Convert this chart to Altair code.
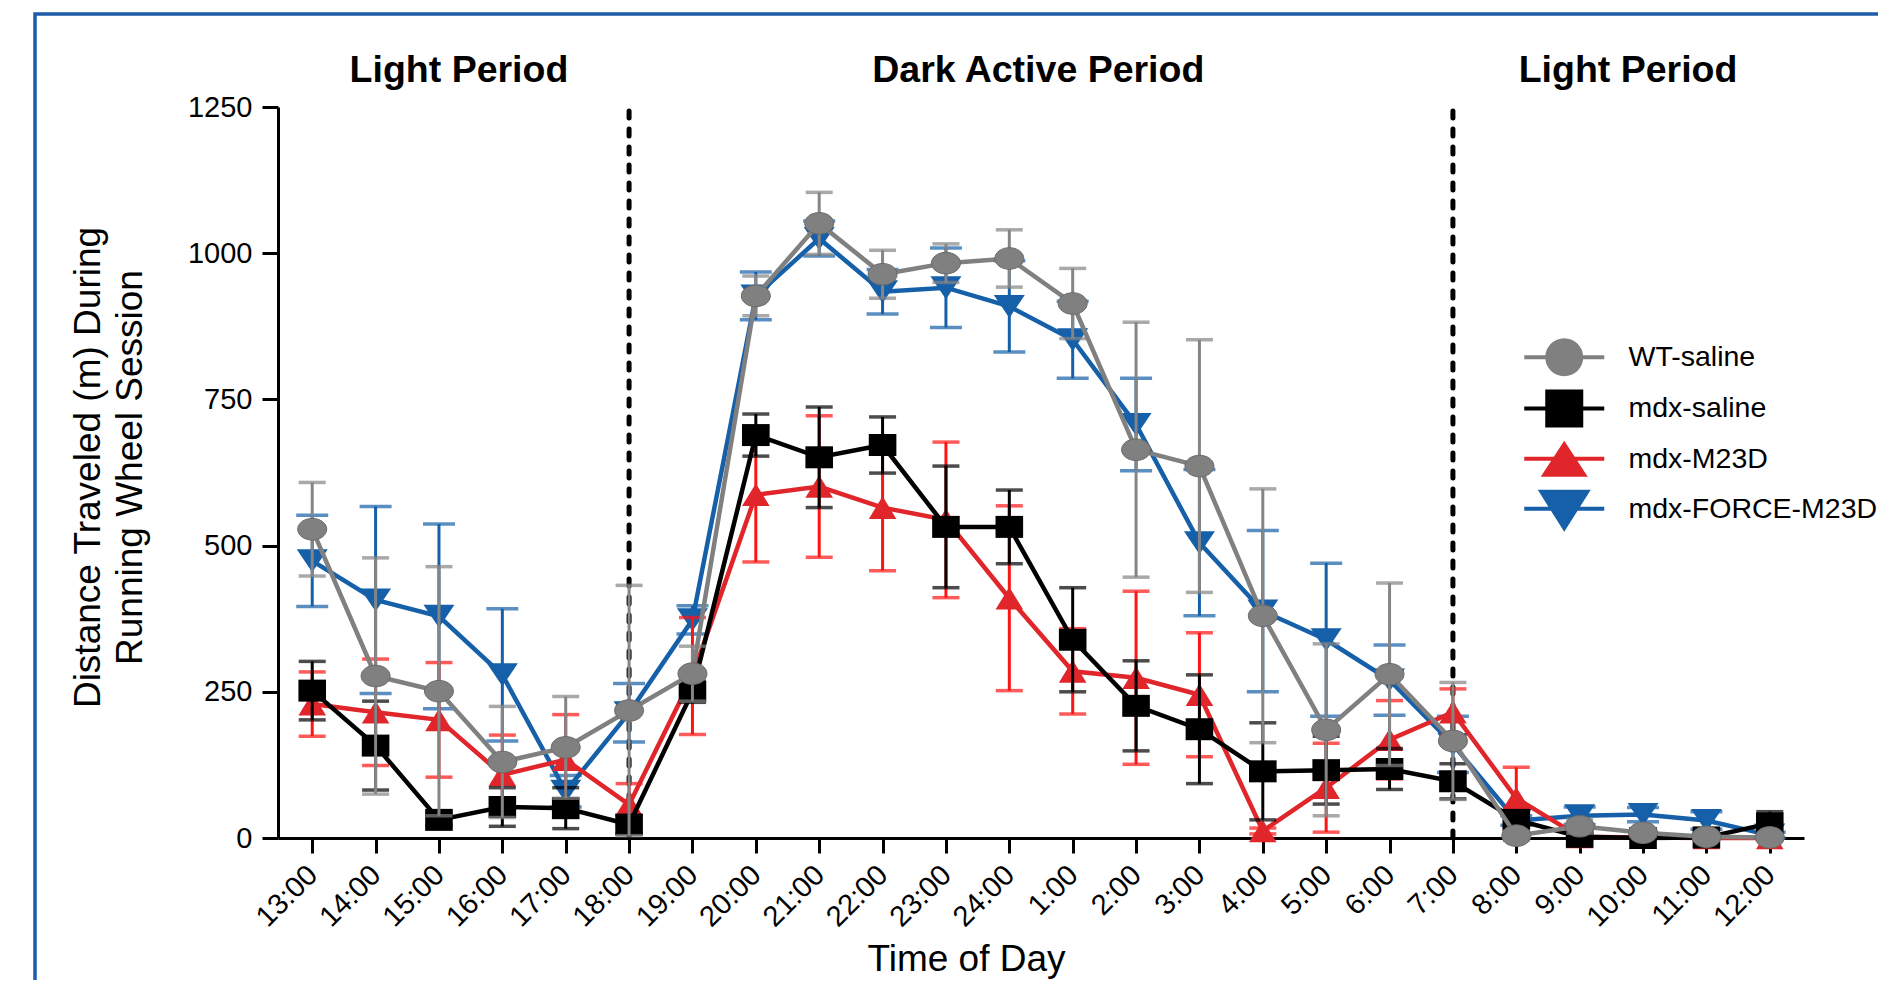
import altair as alt
import pandas as pd

FONT = "Liberation Sans"

times = ["13:00", "14:00", "15:00", "16:00", "17:00", "18:00", "19:00", "20:00",
         "21:00", "22:00", "23:00", "24:00", "1:00", "2:00", "3:00", "4:00",
         "5:00", "6:00", "7:00", "8:00", "9:00", "10:00", "11:00", "12:00"]

groups = ["WT-saline", "mdx-saline", "mdx-M23D", "mdx-FORCE-M23D"]

wt_mean = [528, 277, 251, 130, 155, 218, 281, 927, 1051, 964, 983, 991,
           914, 664, 636, 380, 185, 280, 166, 4, 20, 9, 2, 1]
wt_sem = [80, 202, 213, 95, 87, 214, 47, 34, 53, 41, 33, 49,
          60, 218, 216, 217, 147, 156, 100, 8, 12, 6, 4, 3]

sal_mean = [252, 158, 31, 53, 51, 23, 250, 689, 651, 672, 532, 532,
            339, 226, 186, 114, 116, 118, 97, 31, 2, 0, 1, 25]
sal_sem = [50, 76, 10, 33, 35, 15, 18, 36, 86, 48, 104, 63,
           89, 77, 93, 83, 58, 35, 30, 10, 5, 3, 3, 20]

m23_mean = [229, 215, 202, 108, 134, 57, 277, 587, 601, 565, 544, 410,
            285, 274, 245, 12, 86, 168, 215, 68, 2, 1, 0, 0]
m23_sem = [55, 91, 98, 68, 77, 36, 100, 115, 121, 108, 133, 158,
           73, 148, 106, 5, 76, 67, 40, 53, 3, 2, 2, 2]

force_mean = [474, 407, 379, 279, 80, 214, 373, 927, 1025, 934, 941, 909,
              852, 707, 505, 388, 339, 270, 160, 30, 38, 40, 30, 5]
force_sem = [78, 160, 158, 113, 27, 50, 24, 41, 30, 38, 68, 78,
             66, 79, 125, 138, 131, 60, 48, 8, 15, 12, 15, 5]

line_colors = ["#808080", "#000000", "#e0262b", "#1560a8"]
err_colors = ["#858585", "#000000", "#ff1414", "#1560a8"]
cap_sizes = [27, 27, 27, 32]

# marker shapes in the plot (slightly wide, like the reference)
plot_shapes = [
    "M-1.45,0A1.45,1.08 0 1,1 1.45,0A1.45,1.08 0 1,1 -1.45,0Z",
    "M-1.38,-1.1L1.38,-1.1L1.38,1.1L-1.38,1.1Z",
    "M0,-1.13L1.38,1.13L-1.38,1.13Z",
    "M-1.55,-1.15L1.55,-1.15L0,1.15Z",
]
# legend symbols: marker with a line through it
bar = "M-4,-0.2L4,-0.2L4,0.2L-4,0.2Z "
legend_shapes = [
    bar + "M-1.9,0A1.9,1.9 0 1,1 1.9,0A1.9,1.9 0 1,1 -1.9,0Z",
    bar + "M-1.9,-1.9L1.9,-1.9L1.9,1.9L-1.9,1.9Z",
    bar + "M0,-1.8L2.35,1.8L-2.35,1.8Z",
    bar + "M-2.65,-1.9L2.65,-1.9L0,2.3Z",
]

period_labels = ["Light Period", "Dark Active Period", "Light Period"]
period_anchor = ["15:00", "24:00", "10:00"]
period_dx = [20, 29, -15]
boundary_times = ["18:00", "7:00"]

series = {
    "WT-saline": (wt_mean, wt_sem),
    "mdx-saline": (sal_mean, sal_sem),
    "mdx-M23D": (m23_mean, m23_sem),
    "mdx-FORCE-M23D": (force_mean, force_sem),
}

rows = []
for g in groups:
    m, s = series[g]
    for i, t in enumerate(times):
        rows.append({"time": t, "idx": i, "group": g, "mean": m[i], "sem": s[i],
                     "lo": m[i] - s[i], "hi": m[i] + s[i]})
df = pd.DataFrame(rows)

x_axis = alt.Axis(
    title="Time of Day", titleFont=FONT, titleFontSize=37, titleFontWeight="normal",
    titleColor="black", titleX=688, titleY=132, titleBaseline="alphabetic", titleAlign="center",
    labelAngle=315, labelAlign="right", labelBaseline="middle", labelFont=FONT,
    labelFontSize=29, labelColor="black", labelPadding=17, labelOverlap=False,
    tickSize=15, tickWidth=3, tickColor="black", domainWidth=3, domainColor="black", grid=False,
)
y_axis = alt.Axis(
    title=["Distance Traveled (m) During", "Running Wheel Session"], titleFont=FONT,
    titleFontSize=37, titleFontWeight="normal", titleColor="black", titleLineHeight=42,
    titleX=-179, titleY=360, titleAngle=270, titleBaseline="alphabetic", titleAlign="center",
    values=[0, 250, 500, 750, 1000, 1250], format="d", labelFont=FONT, labelFontSize=29,
    labelColor="black", labelPadding=10, labelOverlap=False,
    tickSize=16, tickWidth=3, tickColor="black", domainWidth=3, domainColor="black", grid=False,
)

X = alt.X("time:O", scale=alt.Scale(type="point", domain=times, padding=0.54), axis=x_axis)
Y_SCALE = alt.Scale(domain=[0, 1250], nice=False, zero=True)


def yenc(field):
    return alt.Y(f"{field}:Q", scale=Y_SCALE, axis=y_axis)


base = alt.Chart(df)

layers = []

# outer blue frame of the figure panel
frame = alt.Chart(pd.DataFrame({"k": [0]})).mark_rect(
    fillOpacity=0, stroke="#1d5ca8", strokeWidth=3.5
).encode(x=alt.value(-243), x2=alt.value(2200), y=alt.value(-93), y2=alt.value(2200))
layers.append(frame)

# dotted boundaries
bdf = pd.DataFrame({"time": boundary_times, "lo": [0, 0], "hi": [1250, 1250]})
rules = alt.Chart(bdf).mark_rule(
    color="black", strokeWidth=5, strokeDash=[7, 11], strokeCap="round"
).encode(x=X, y=yenc("lo"), y2="hi:Q")
layers.append(rules)

draw_order = ["mdx-FORCE-M23D", "mdx-M23D", "mdx-saline", "WT-saline"]
for g in draw_order:
    gi = groups.index(g)
    sub = base.transform_filter(alt.datum.group == g)
    err = sub.mark_rule(color=err_colors[gi], strokeWidth=3).encode(x=X, y=yenc("lo"), y2="hi:Q")
    cap_hi = sub.mark_tick(color=err_colors[gi], size=cap_sizes[gi], thickness=3.5).encode(x=X, y=yenc("hi"))
    cap_lo = sub.mark_tick(color=err_colors[gi], size=cap_sizes[gi], thickness=3.5).encode(x=X, y=yenc("lo"))
    line = sub.mark_line(color=line_colors[gi], strokeWidth=4.5).encode(
        x=X, y=yenc("mean"), order="idx:Q")
    pt_kwargs = dict(filled=True, size=400, shape=plot_shapes[gi], color=line_colors[gi], opacity=1)
    if g == "WT-saline":
        pt_kwargs.update(stroke="#6a6a6a", strokeWidth=1)
    pts = sub.mark_point(**pt_kwargs).encode(x=X, y=yenc("mean"))
    layers += [err, cap_hi, cap_lo, line, pts]

# legend (entries come from the explicit scale domain)
leg = alt.Legend(
    title=None, orient="none", legendX=1272, legendY=236, padding=0,
    labelFont=FONT, labelFontSize=28.5, labelColor="black", labelOffset=50,
    symbolSize=400, symbolStrokeWidth=0, symbolOpacity=1, rowPadding=12.2,
    labelLimit=400,
)
legend_layer = base.transform_filter("datum.mean < -100000").mark_point(filled=True, size=400).encode(
    x=X, y=yenc("mean"),
    color=alt.Color("group:N", scale=alt.Scale(domain=groups, range=line_colors), legend=leg),
    shape=alt.Shape("group:N", scale=alt.Scale(domain=groups, range=legend_shapes), legend=leg),
)
layers.append(legend_layer)

# period titles
for lab, anc, dx in zip(period_labels, period_anchor, period_dx):
    tdf = pd.DataFrame({"time": [anc], "label": [lab], "yv": [1250]})
    txt = alt.Chart(tdf).mark_text(
        font=FONT, fontSize=37.5, fontWeight="bold", color="black", dx=dx, dy=-25,
        baseline="alphabetic", align="center"
    ).encode(x=X, y=yenc("yv"), text="label:N")
    layers.append(txt)

chart = alt.layer(*layers).properties(
    width=1526, height=731,
    padding={"left": 270, "top": 99, "right": 74, "bottom": 142},
    autosize=alt.AutoSizeParams(type="none"),
    background="white",
).configure_view(strokeWidth=0)

chart.save("out.html", embed_options={"renderer": "svg", "actions": False})
